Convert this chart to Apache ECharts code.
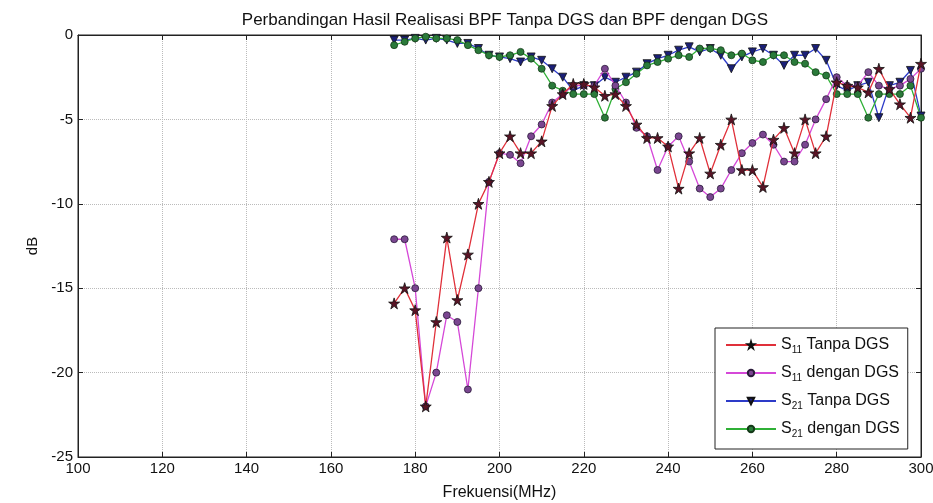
<!DOCTYPE html>
<html>
<head>
    <meta charset="UTF-8"/>
    <script type="text/javascript" src="https://cdn.jsdelivr.net/npm/echarts@6/dist/echarts.min.js"></script>
    <title>Perbandingan Hasil Realisasi BPF</title>
    <style>
        body { margin: 0; background: #fff; }
        #main { width: 933px; height: 503px; }
    </style>
</head>
<body>
<div id="main"></div>
<script type="text/javascript">
    // frekuensi (MHz), langkah 2.5 MHz
    var freq = [175, 177.5, 180, 182.5, 185, 187.5, 190, 192.5, 195, 197.5,
        200, 202.5, 205, 207.5, 210, 212.5, 215, 217.5, 220, 222.5,
        225, 227.5, 230, 232.5, 235, 237.5, 240, 242.5, 245, 247.5,
        250, 252.5, 255, 257.5, 260, 262.5, 265, 267.5, 270, 272.5,
        275, 277.5, 280, 282.5, 285, 287.5, 290, 292.5, 295, 297.5, 300]

    var s11Tanpa = [-15.9, -15.0, -16.3, -22.0, -17.0, -12.0, -15.7, -13.0, -10.0, -8.7,
        -7.0, -6.0, -7.0, -7.0, -6.3, -4.2, -3.5, -2.9, -2.9, -3.1,
        -3.6, -3.5, -4.2, -5.3, -6.1, -6.1, -6.6, -9.1, -7.0, -6.1,
        -8.2, -6.5, -5.0, -8.0, -8.0, -9.0, -6.2, -5.5, -7.0, -5.0,
        -7.0, -6.0, -2.8, -3.0, -3.1, -3.4, -2.0, -3.2, -4.1, -4.9, -1.7]

    var s11Dengan = [-12.1, -12.1, -15.0, -22.0, -20.0, -16.6, -17.0, -21.0, -15.0, -8.7,
        -7.0, -7.1, -7.6, -6.0, -5.3, -4.0, -3.5, -3.0, -3.0, -3.0,
        -2.0, -3.0, -4.0, -5.5, -6.0, -8.0, -6.6, -6.0, -7.5, -9.1,
        -9.6, -9.1, -8.0, -7.0, -6.4, -5.9, -6.5, -7.5, -7.5, -6.5,
        -5.0, -3.8, -2.5, -3.0, -3.0, -2.2, -3.0, -3.2, -3.0, -2.6, -2.0]

    var s21Tanpa = [-0.3, -0.3, -0.2, -0.3, -0.2, -0.3, -0.5, -0.5, -0.8, -1.2,
        -1.3, -1.4, -1.6, -1.3, -1.5, -2.0, -2.5, -3.3, -3.0, -3.0,
        -2.5, -2.8, -2.5, -2.2, -1.7, -1.4, -1.2, -0.9, -0.7, -1.0,
        -0.8, -1.2, -2.0, -1.3, -1.0, -0.8, -1.2, -1.8, -1.2, -1.2,
        -0.8, -1.5, -3.0, -3.3, -3.0, -2.8, -4.9, -3.0, -2.8, -2.1, -4.8]

    var s21Dengan = [-0.6, -0.4, -0.2, -0.1, -0.2, -0.2, -0.3, -0.6, -0.9, -1.2,
        -1.3, -1.2, -1.0, -1.4, -2.0, -3.0, -3.3, -3.5, -3.5, -3.5,
        -4.9, -3.2, -2.8, -2.3, -1.8, -1.6, -1.4, -1.2, -1.3, -0.8,
        -0.8, -0.9, -1.2, -1.1, -1.5, -1.6, -1.2, -1.2, -1.6, -1.7,
        -2.2, -2.4, -3.5, -3.5, -3.5, -4.9, -3.5, -3.5, -3.5, -3.0, -4.9]

    var xTicks = [100, 120, 140, 160, 180, 200, 220, 240, 260, 280, 300]
    var yTicks = [-25, -20, -15, -10, -5, 0]

    var starPath = 'path://M50,0 L61,35 L98,35 L68,57 L79,91 L50,70 L21,91 L32,57 L2,35 L39,35 Z'

    function pairs(vals) {
        var out = []
        for (var i = 0; i < freq.length; i++) {
            out.push([freq[i], vals[i]])
        }
        return out
    }

    var font = '"Liberation Sans", Arial, sans-serif'
    var subRich = {
        n: {fontSize: 16, fontFamily: font, color: '#111'},
        sub: {fontSize: 10, fontFamily: font, color: '#111', verticalAlign: 'bottom', padding: [10, 0, 0, 0]}
    }

    var myChart = echarts.init(document.getElementById('main'))

    var option = {
        backgroundColor: '#fff',
        animation: false,
        title: {
            text: 'Perbandingan Hasil Realisasi BPF Tanpa DGS dan BPF dengan DGS',
            left: 500,
            textAlign: 'center',
            top: 7,
            textStyle: {fontSize: 17, fontWeight: 'normal', color: '#111', fontFamily: font}
        },
        grid: {
            left: 78,
            right: 12,
            top: 35,
            bottom: 46,
            containLabel: false,
            outerBoundsMode: 'none',
            show: true,
            borderColor: '#222',
            borderWidth: 1
        },
        legend: {
            orient: 'vertical',
            left: 715,
            top: 328,
            itemWidth: 50,
            itemHeight: 8,
            itemGap: 10,
            padding: [9, 8, 10, 10],
            backgroundColor: '#fff',
            borderColor: '#222',
            borderWidth: 1,
            textStyle: {rich: subRich},
            formatter: function (name) {
                var m = name.match(/^S(\d+) (.*)$/)
                return '{n|S}{sub|' + m[1] + '}{n| ' + m[2] + '}'
            },
            data: ['S11 Tanpa DGS', 'S11 dengan DGS', 'S21 Tanpa DGS', 'S21 dengan DGS']
        },
        xAxis: [
            {
                type: 'value',
                min: 100,
                max: 300,
                interval: 20,
                name: 'Frekuensi(MHz)',
                nameLocation: 'middle',
                nameGap: 28,
                nameTextStyle: {fontSize: 16, color: '#111', fontFamily: font},
                axisLine: {show: true, onZero: false, lineStyle: {color: '#222'}},
                axisTick: {show: true, inside: true, length: 5, lineStyle: {color: '#222'}},
                axisLabel: {fontSize: 15, color: '#111', fontFamily: font, margin: 4,
                    formatter: function (v) { return xTicks.indexOf(v) >= 0 ? v : '' }},
                splitLine: {show: true, lineStyle: {type: 'dotted', color: '#bbb'}}
            },
            {
                type: 'value',
                position: 'top',
                min: 100,
                max: 300,
                interval: 20,
                axisLine: {show: true, onZero: false, lineStyle: {color: '#222'}},
                axisTick: {show: true, inside: true, length: 5, lineStyle: {color: '#222'}},
                axisLabel: {show: false},
                splitLine: {show: false}
            }
        ],
        yAxis: [
            {
                type: 'value',
                min: -25,
                max: 0,
                interval: 5,
                name: 'dB',
                nameLocation: 'middle',
                nameGap: 37,
                nameTextStyle: {fontSize: 15, color: '#111', fontFamily: font},
                axisLine: {show: true, onZero: false, lineStyle: {color: '#222'}},
                axisTick: {show: true, inside: true, length: 5, lineStyle: {color: '#222'}},
                axisLabel: {fontSize: 15, color: '#111', fontFamily: font, margin: 5,
                    formatter: function (v) { return yTicks.indexOf(v) >= 0 ? v : '' }},
                splitLine: {show: true, lineStyle: {type: 'dotted', color: '#bbb'}}
            },
            {
                type: 'value',
                position: 'right',
                min: -25,
                max: 0,
                interval: 5,
                axisLine: {show: true, onZero: false, lineStyle: {color: '#222'}},
                axisTick: {show: true, inside: true, length: 5, lineStyle: {color: '#222'}},
                axisLabel: {show: false},
                splitLine: {show: false}
            }
        ],
        series: [
            {
                name: 'S11 Tanpa DGS',
                type: 'line',
                data: pairs(s11Tanpa),
                symbol: starPath,
                symbolSize: 11,
                lineStyle: {color: '#e0303a', width: 1.3},
                itemStyle: {color: '#5a1426', borderColor: '#111', borderWidth: 0.8},
                z: 4
            },
            {
                name: 'S11 dengan DGS',
                type: 'line',
                data: pairs(s11Dengan),
                symbol: 'circle',
                symbolSize: 7,
                lineStyle: {color: '#d548d8', width: 1.3},
                itemStyle: {color: '#7a4690', borderColor: '#2a1a3a', borderWidth: 0.8},
                z: 3
            },
            {
                name: 'S21 Tanpa DGS',
                type: 'line',
                data: pairs(s21Tanpa),
                symbol: 'triangle',
                symbolRotate: 180,
                symbolSize: 8,
                lineStyle: {color: '#2d3bc8', width: 1.3},
                itemStyle: {color: '#1b2078', borderColor: '#111', borderWidth: 0.8},
                z: 2
            },
            {
                name: 'S21 dengan DGS',
                type: 'line',
                data: pairs(s21Dengan),
                symbol: 'circle',
                symbolSize: 7,
                lineStyle: {color: '#2fb036', width: 1.3},
                itemStyle: {color: '#2a7a3a', borderColor: '#143a18', borderWidth: 0.8},
                z: 2
            }
        ]
    }

    myChart.setOption(option)
</script>
</body>
</html>
